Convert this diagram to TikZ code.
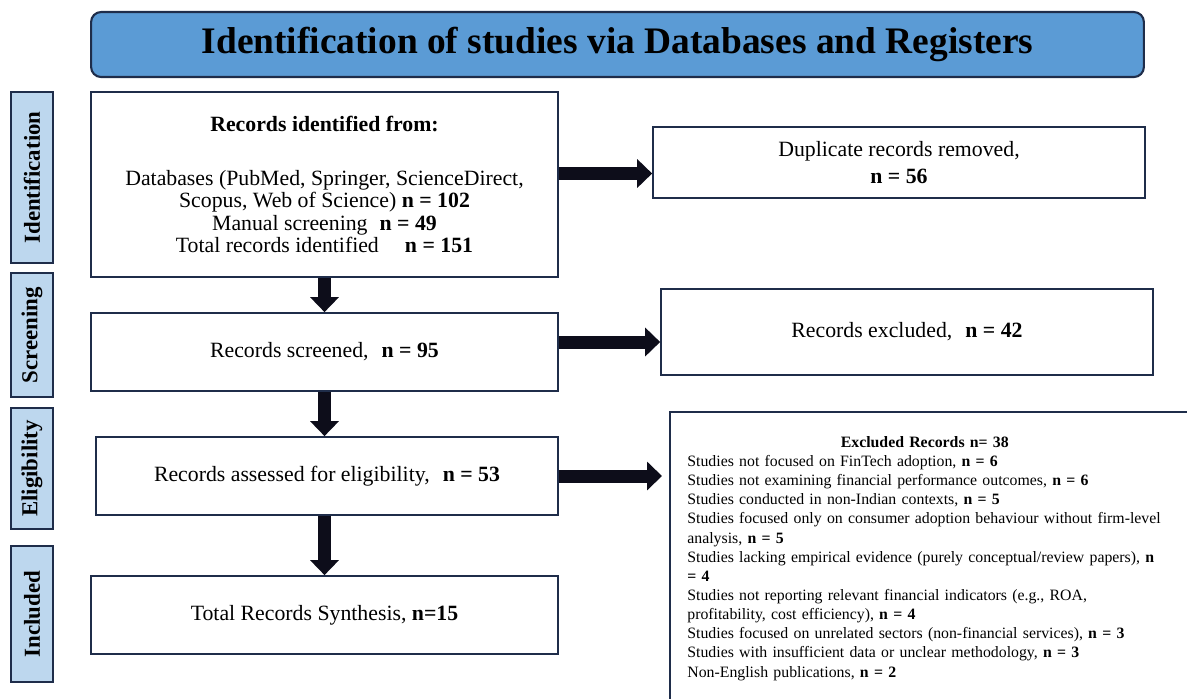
\documentclass[tikz,border=0pt]{standalone}
\usepackage{fontspec}
\setmainfont{Liberation Serif}
\usetikzlibrary{arrows.meta,calc}

\definecolor{titleblue}{HTML}{5B9BD5}
\definecolor{sideblue}{HTML}{BDD7EE}
\definecolor{edgenavy}{HTML}{1F2D4A}
\definecolor{arrowdark}{HTML}{0D0D1A}

\tikzset{
  box/.style={draw=edgenavy, line width=1pt, fill=white, align=center, inner sep=0pt,
    font=\fontsize{12.4}{12.8}\selectfont},
  sidebox/.style={draw=edgenavy, line width=1pt, fill=sideblue, rotate=90,
    minimum height=0.84cm, inner sep=0pt, font=\bfseries\fontsize{13}{14}\selectfont},
  bigarrow/.style={draw=arrowdark, line width=0.26cm, -{Triangle[length=0.3cm,width=0.56cm]}},
}

\begin{document}
\begin{tikzpicture}[x=0.02cm, y=-0.02cm]
                \useasboundingbox (0,0) rectangle (1187,698);
                \clip (0,0) rectangle (1187,698);

                \node[draw=edgenavy, line width=1.2pt, fill=titleblue, rounded corners=0.2cm,
                      minimum width=21.06cm, minimum height=1.3cm,
                      font=\bfseries\fontsize{21.3}{24}\selectfont] (title) at (617.5,44.5)
                      {Identification of studies via Databases and Registers};

                \node[sidebox, minimum width=3.42cm] (sideid) at (32,177.5) {Identification};
                \node[sidebox, minimum width=2.48cm] (sidescr) at (32,335) {Screening};
                \node[sidebox, minimum width=2.42cm] (sideelig) at (32,468.5) {Eligibility};
                \node[sidebox, minimum width=2.72cm] (sideincl) at (32,614) {Included};

                \node[box, minimum width=9.34cm, minimum height=3.7cm] (ident) at (324.5,184.5)
                      {\textbf{Records identified from:}\\[18pt]
                       Databases (PubMed, Springer, ScienceDirect,\\
                       Scopus, Web of Science) \textbf{n = 102}\\
                       Manual screening\hspace{0.55em}\textbf{n = 49}\\
                       Total records identified\hspace{1.2em}\textbf{n = 151}};
                \node[box, minimum width=9.84cm, minimum height=1.42cm] (dup) at (899,162.5)
                      {Duplicate records removed,\\[3pt] \textbf{n = 56}};

                \node[box, minimum width=9.34cm, minimum height=1.56cm] (scr) at (324.5,352)
                      {Records screened,\hspace{0.6em}\textbf{n = 95}};
                \node[box, minimum width=9.84cm, minimum height=1.72cm] (exscr) at (907,332)
                      {Records excluded,\hspace{0.6em}\textbf{n = 42}};

                \node[box, minimum width=9.24cm, minimum height=1.56cm] (elig) at (327,476)
                      {Records assessed for eligibility,\hspace{0.6em}\textbf{n = 53}};
                \node[draw=edgenavy, line width=1pt, minimum width=11cm, minimum height=6.5cm,
                      anchor=north west, inner sep=0pt] (exelig) at (669,411) {};
                \node[anchor=north west, align=left, text width=9.5cm, inner sep=0pt,
                      font=\fontsize{9}{10.9}\selectfont] (exlist) at (687,436)
                      {\hfill\textbf{Excluded Records n= 38}\hfill\null\\
                       Studies not focused on FinTech adoption, \textbf{n = 6}\\
                       Studies not examining financial performance outcomes, \textbf{n = 6}\\
                       Studies conducted in non-Indian contexts, \textbf{n = 5}\\
                       Studies focused only on consumer adoption behaviour without firm-level\\
                       analysis, \textbf{n = 5}\\
                       Studies lacking empirical evidence (purely conceptual/review papers), \textbf{n}\\
                       \textbf{= 4}\\
                       Studies not reporting relevant financial indicators (e.g., ROA,\\
                       profitability, cost efficiency), \textbf{n = 4}\\
                       Studies focused on unrelated sectors (non-financial services), \textbf{n = 3}\\
                       Studies with insufficient data or unclear methodology, \textbf{n = 3}\\
                       Non-English publications, \textbf{n = 2}};

                \node[box, minimum width=9.34cm, minimum height=1.56cm] (incl) at (324.5,615)
                      {Total Records Synthesis, \textbf{n=15}};

                \coordinate (toexid) at ($(ident.east)!0.5!(ident.east |- dup.west)$);
                \coordinate (toexscr) at ($(scr.east)!0.5!(scr.east |- exscr.west)$);
                \draw[bigarrow] (toexid) -- (toexid -| dup.west);
                \draw[bigarrow] (toexscr) -- (toexscr -| exscr.west);
                \draw[bigarrow, shorten >=0.14cm] (elig.east) -- (elig.east -| exelig.west);

                \draw[bigarrow] (ident.south) -- (scr.north);
                \draw[bigarrow] (scr.south) -- (scr.south |- elig.north);
                \draw[bigarrow] (elig.south -| incl.north) -- (incl.north);
            \end{tikzpicture}
\end{document}
